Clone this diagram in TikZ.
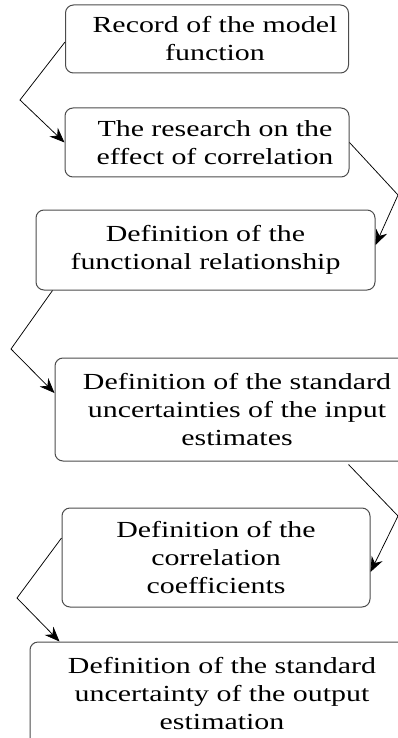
\documentclass[tikz,border=0pt]{standalone}
\usepackage{fontspec}
\setmainfont{Liberation Serif}[FakeStretch=1.3]
\usetikzlibrary{arrows.meta}
\begin{document}
\begin{tikzpicture}[x=1pt,y=1pt,
  box/.style={draw=black!70, rounded corners=8pt, line width=1pt, align=center, inner sep=0pt,
    font=\fontsize{23}{28}\selectfont},
  conn/.style={draw, line width=0.75pt, -{Stealth[length=15pt,width=12pt,inset=5pt]}}]
\useasboundingbox (0,0) rectangle (398,-738);
\begin{scope}
\clip (0,0) rectangle (398,-738);
\node[box, minimum width=283pt, minimum height=68pt] (b1) at (207,-39) {\hspace*{16pt}Record of the model\\\hspace*{16pt}function};
\node[box, minimum width=284pt, minimum height=69pt] (b2) at (207,-142.5) {\hspace*{16pt}The research on the\\\hspace*{16pt}effect of correlation};
\node[box, minimum width=339pt, minimum height=80pt] (b3) at (205.5,-250) {Definition of the\\functional relationship};
\node[box, minimum width=364pt, minimum height=103pt] (b4) at (237,-409.5) {Definition of the standard\\uncertainties of the input\\estimates};
\node[box, minimum width=384pt, minimum height=104pt] (b6) at (222,-694) {Definition of the standard\\uncertainty of the output\\estimation};
\node[box, minimum width=308pt, minimum height=99pt] (b5) at (216,-557.5) {Definition of the\\correlation\\coefficients};
\end{scope}
\coordinate (k1) at (20,-100);
\coordinate (k2) at (398,-195);
\coordinate (k3) at (11,-349);
\coordinate (k4) at (398,-516);
\coordinate (k5) at (17,-598);
\draw[conn] ([yshift=-3pt]b1.west) -- (k1) -- (b2.west);
\draw[conn] (b2.east) -- (k2) -- ([yshift=5pt]b3.east);
\draw[conn] ([xshift=17pt]b3.south west) -- (k3) -- ([yshift=16.5pt]b4.west);
\draw[conn] ([xshift=294pt,yshift=-3pt]b4.south west) -- (k4) -- ([yshift=-14.5pt]b5.east);
\draw[conn] ([yshift=19.5pt]b5.west) -- (k5) -- ([xshift=30pt]b6.north west);
\end{tikzpicture}
\end{document}
